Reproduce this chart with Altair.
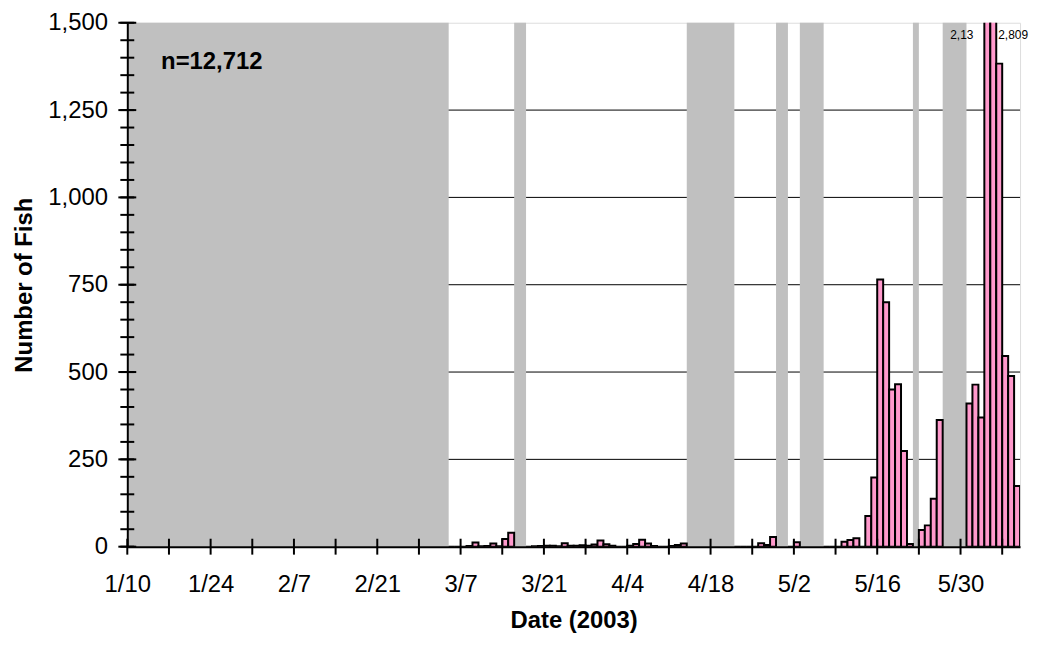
import altair as alt
import pandas as pd

# ---------------- data ----------------
FIRST_DAY = "2003-03-05"          # first day of the daily count series
# daily counts from 3/5 to 6/8 (None = not sampled)
COUNTS = [
    # March 5 - 31
    0, 0, 0, 2, 12, 1, 2, 9, 1, 22, 40, None, None, 0, 1, 2, 3, 3, 1, 10,
    3, 3, 4, 3, 6, 18, 7,
    # April 1 - 30
    3, 0, 0, 3, 8, 20, 9, 2, 0, 0, 2, 5, 9,
    None, None, None, None, None, None, None, None,
    0, 0, 0, 0, 10, 5, 28, None, None,
    # May 1 - 31
    0, 13, None, None, None, None, 0, 0, 0, 14, 19, 24, 0,
    88, 198, 765, 700, 450, 465, 274, 8, None, 48, 61, 137, 363,
    None, None, None, None, 410,
    # June 1 - 8
    464, 370, 2135, 2809, 1383, 546, 489, 174,
]

GRAY_START = ["2003-01-10", "2003-03-16", "2003-04-14", "2003-04-29",
              "2003-05-03", "2003-05-22", "2003-05-27"]
GRAY_END = ["2003-03-05", "2003-03-18", "2003-04-22", "2003-05-01",
            "2003-05-07", "2003-05-23", "2003-05-31"]

X_LABEL_DATES = ["2003-01-10", "2003-01-24", "2003-02-07", "2003-02-21",
                 "2003-03-07", "2003-03-21", "2003-04-04", "2003-04-18",
                 "2003-05-02", "2003-05-16", "2003-05-30"]
X_DOMAIN = ["2003-01-10", "2003-06-09"]
Y_LABELS = [0, 250, 500, 750, 1000, 1250, 1500]
GRID_VALUES = [250, 500, 750, 1000, 1250]

LEFT_LABEL_DATE = "2003-06-03"
LEFT_LABEL_TEXT = "2,13"
RIGHT_LABEL_DATE = "2003-06-05"
RIGHT_LABEL_TEXT = "2,809"
TOTAL_TEXT = "n=12,712"

# ---------------- helpers ----------------
W, H = 898, 527
FONT = "Liberation Sans"


def ms(d):
    return int(pd.Timestamp(d, tz="UTC").value // 10**6)


days = pd.date_range(FIRST_DAY, periods=len(COUNTS), freq="D", tz="UTC")
bars = pd.DataFrame({
    "date": [int(d.value // 10**6) for d in days],
    "end": [int((d + pd.Timedelta(days=1)).value // 10**6) for d in days],
    "count": COUNTS,
}).dropna()

gray = pd.DataFrame({"date": [ms(d) for d in GRAY_START],
                     "end": [ms(d) for d in GRAY_END]})

week_ticks = pd.DataFrame({"date": [int(d.value // 10**6) for d in
                                    pd.date_range("2003-01-10", "2003-06-06", freq="7D", tz="UTC")]})
y_major = pd.DataFrame({"count": Y_LABELS})
y_minor = pd.DataFrame({"count": list(range(0, 1501, 50))})
grid = pd.DataFrame({"count": GRID_VALUES})

x_scale = alt.Scale(type="utc", domain=[ms(X_DOMAIN[0]), ms(X_DOMAIN[1])], nice=False)
y_scale = alt.Scale(domain=[0, 1500], nice=False, zero=True)

x_axis = alt.Axis(
    values=[ms(d) for d in X_LABEL_DATES],
    labelExpr="utcFormat(datum.value, '%-m/%-d')",
    ticks=False, grid=False,
    domainColor="black", domainWidth=2,
    labelFont=FONT, labelFontSize=24, labelColor="black", labelFontWeight="normal",
    labelBaseline="alphabetic", labelPadding=45, labelAlign="center",
    labelFlush=False, labelOverlap=False,
    title="Date (2003)", titleFont=FONT, titleFontSize=24, titleFontWeight="bold",
    titleColor="black", titleX=W / 2, titleY=81, titleBaseline="alphabetic",
    titleAlign="center", zindex=2,
)
y_axis = alt.Axis(
    values=Y_LABELS, format=",d",
    ticks=False, grid=False,
    domainColor="black", domainWidth=2,
    labelFont=FONT, labelFontSize=24, labelColor="black", labelFontWeight="normal",
    labelPadding=20, labelFlush=False, labelOverlap=False,
    title="Number of Fish", titleFont=FONT, titleFontSize=24, titleFontWeight="bold",
    titleColor="black", titleX=-96, titleY=H / 2, titleBaseline="alphabetic",
    titleAlign="center", titleAngle=270, zindex=2,
)

X = lambda f: alt.X(f, scale=x_scale, axis=x_axis)
Y = lambda f: alt.Y(f, scale=y_scale, axis=y_axis)

grid_layer = alt.Chart(grid).mark_rule(color="black", strokeWidth=1).encode(
    y=Y("count:Q"), x=alt.value(0), x2=alt.value(W),
)

gray_layer = alt.Chart(gray).mark_rect(color="#c0c0c0").encode(
    x=X("date:T"), x2="end:T",
    y=alt.value(0), y2=alt.value(H),
)

bar_layer = alt.Chart(bars).mark_rect(
    fill="#ff99cc", stroke="black", strokeWidth=2, clip=True
).encode(
    x=X("date:T"), x2="end:T",
    y=Y("count:Q"), y2=alt.datum(0),
)

y_minor_layer = alt.Chart(y_minor).mark_rule(color="black", strokeWidth=2).encode(
    y=Y("count:Q"), x=alt.value(-7), x2=alt.value(7),
)
y_major_layer = alt.Chart(y_major).mark_rule(color="black", strokeWidth=2).encode(
    y=Y("count:Q"), x=alt.value(-9), x2=alt.value(9),
)
x_tick_layer = alt.Chart(week_ticks).mark_rule(color="black", strokeWidth=2).encode(
    x=X("date:T"), y=alt.value(H - 8), y2=alt.value(H + 8),
)

total_layer = alt.Chart(pd.DataFrame({"txt": [TOTAL_TEXT]})).mark_text(
    align="left", baseline="alphabetic", font=FONT, fontSize=24,
    fontWeight="bold", color="black"
).encode(x=alt.value(34), y=alt.value(47), text="txt:N")

left_lab = alt.Chart(pd.DataFrame({"date": [ms(LEFT_LABEL_DATE)], "txt": [LEFT_LABEL_TEXT]})).mark_text(
    align="right", baseline="alphabetic", font=FONT, fontSize=12, color="black", dx=-11
).encode(x=X("date:T"), y=alt.value(16), text="txt:N")

right_lab = alt.Chart(pd.DataFrame({"date": [ms(RIGHT_LABEL_DATE)], "txt": [RIGHT_LABEL_TEXT]})).mark_text(
    align="left", baseline="alphabetic", font=FONT, fontSize=12, color="black", dx=2
).encode(x=X("date:T"), y=alt.value(16), text="txt:N")

chart = alt.layer(
    grid_layer, gray_layer, bar_layer, y_minor_layer, y_major_layer,
    x_tick_layer, total_layer, left_lab, right_lab,
).properties(
    width=W, height=H,
    padding={"left": 120, "top": 13, "right": 9, "bottom": 90},
    autosize=alt.AutoSizeParams(type="none"),
    background="white",
).configure_view(
    stroke="#c0c0c0", strokeWidth=4
).configure(font=FONT)

chart.save("out.html", embed_options={"renderer": "svg", "actions": False})
